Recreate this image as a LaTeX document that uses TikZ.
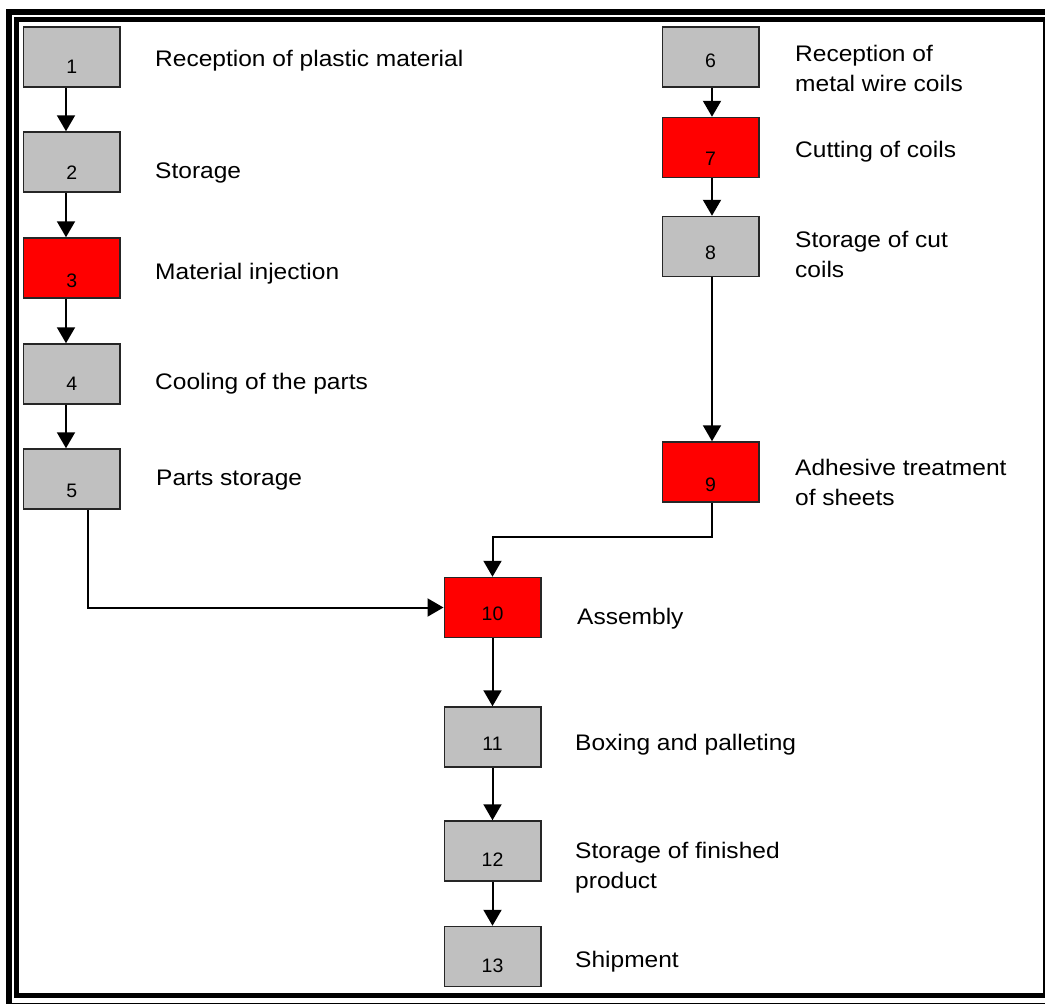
\documentclass[tikz,border=0pt]{standalone}
\usepackage{fontspec}
\setmainfont{Liberation Sans}
\newfontfamily\widesans{Liberation Sans}[FakeStretch=1.09]
\usetikzlibrary{arrows.meta}
\definecolor{boxgray}{RGB}{192,192,192}
\definecolor{boxred}{RGB}{255,0,0}
\tikzset{
  stepbox/.style={draw=black!85, line width=1.5pt, minimum width=96.5pt,
    minimum height=60pt, inner sep=0pt},
  gbox/.style={stepbox, fill=boxgray},
  rbox/.style={stepbox, fill=boxred},
  num/.style={anchor=base, inner sep=0pt, font=\fontsize{19.5}{21}\selectfont},
  lbl/.style={anchor=base west, inner sep=0pt, font=\widesans\fontsize{22.5}{30}\selectfont},
  arr/.style={line width=2pt, -{Triangle[length=16pt,width=18pt]}}
}
\newcommand{\twolines}[2]{\begin{tabular}[t]{@{}l@{}}#1\\#2\end{tabular}}
\begin{document}
\begin{tikzpicture}[x=1pt,y=-1pt]
\useasboundingbox (0,0) rectangle (1045,1004);
\clip (0,0) rectangle (1045,1004);

% double frame
\draw[line width=6pt] (9,12) rectangle (1049,1006);
\draw[line width=5pt] (16,19.5) rectangle (1045.5,995.5);

% plastic line
\node[gbox] (n1) at (71.75,57) {};
\node[gbox] (n2) at (71.75,162) {};
\node[rbox] (n3) at (71.75,268) {};
\node[gbox] (n4) at (71.75,374) {};
\node[gbox] (n5) at (71.75,479) {};
% metal line
\node[gbox] (n6) at (710.5,57) {};
\node[rbox] (n7) at (710.5,147.5) {};
\node[gbox] (n8) at (710.5,246.5) {};
\node[rbox] (n9) at (710.5,472) {};
% final line
\node[rbox] (n10) at (492.5,607.5) {};
\node[gbox] (n11) at (492.5,737) {};
\node[gbox] (n12) at (492.5,851) {};
\node[gbox] (n13) at (492.5,956.5) {};

% step numbers
\node[num] (t1) at (71.75,73) {1};
\node[num] (t2) at (71.75,179) {2};
\node[num] (t3) at (71.75,287) {3};
\node[num] (t4) at (71.75,390) {4};
\node[num] (t5) at (71.75,497) {5};
\node[num] (t6) at (710.5,67) {6};
\node[num] (t7) at (710.5,165) {7};
\node[num] (t8) at (710.5,259) {8};
\node[num] (t9) at (710.5,491) {9};
\node[num] (t10) at (492.5,620) {10};
\node[num] (t11) at (492.5,750) {11};
\node[num] (t12) at (492.5,866) {12};
\node[num] (t13) at (492.5,972) {13};

% step descriptions
\node[lbl] (l1) at (155,66) {Reception of plastic material};
\node[lbl] (l2) at (155,178) {Storage};
\node[lbl] (l3) at (155,279) {Material injection};
\node[lbl] (l4) at (155,389) {Cooling of the parts};
\node[lbl] (l5) at (156,485) {Parts storage};
\node[lbl] (l6) at (795,61) {\twolines{Reception of}{metal wire coils}};
\node[lbl] (l7) at (795,157) {Cutting of coils};
\node[lbl] (l8) at (795,247) {\twolines{Storage of cut}{coils}};
\node[lbl] (l9) at (795,475) {\twolines{Adhesive treatment}{of sheets}};
\node[lbl] (l10) at (577,624) {Assembly};
\node[lbl] (l11) at (575,750) {Boxing and palleting};
\node[lbl] (l12) at (575,858) {\twolines{Storage of finished}{product}};
\node[lbl] (l13) at (575,967) {Shipment};

% connector guides
\coordinate (lc) at (66,0);
\coordinate (rc) at (712,0);
\coordinate (c5) at (88,0);
\coordinate (j9) at (0,537);

% connectors
\draw[arr] (n1.south -| lc) -- (n2.north -| lc);
\draw[arr] (n2.south -| lc) -- (n3.north -| lc);
\draw[arr] (n3.south -| lc) -- (n4.north -| lc);
\draw[arr] (n4.south -| lc) -- (n5.north -| lc);
\draw[arr] (n6.south -| rc) -- (n7.north -| rc);
\draw[arr] (n7.south -| rc) -- (n8.north -| rc);
\draw[arr] (n8.south -| rc) -- (n9.north -| rc);
\draw[arr] (n5.south -| c5) |- (n10.west);
\draw[arr] (n9.south -| rc) |- (j9 -| n10.north) -- (n10.north);
\draw[arr] (n10.south) -- (n11.north);
\draw[arr] (n11.south) -- (n12.north);
\draw[arr] (n12.south) -- (n13.north);
\end{tikzpicture}
\end{document}
